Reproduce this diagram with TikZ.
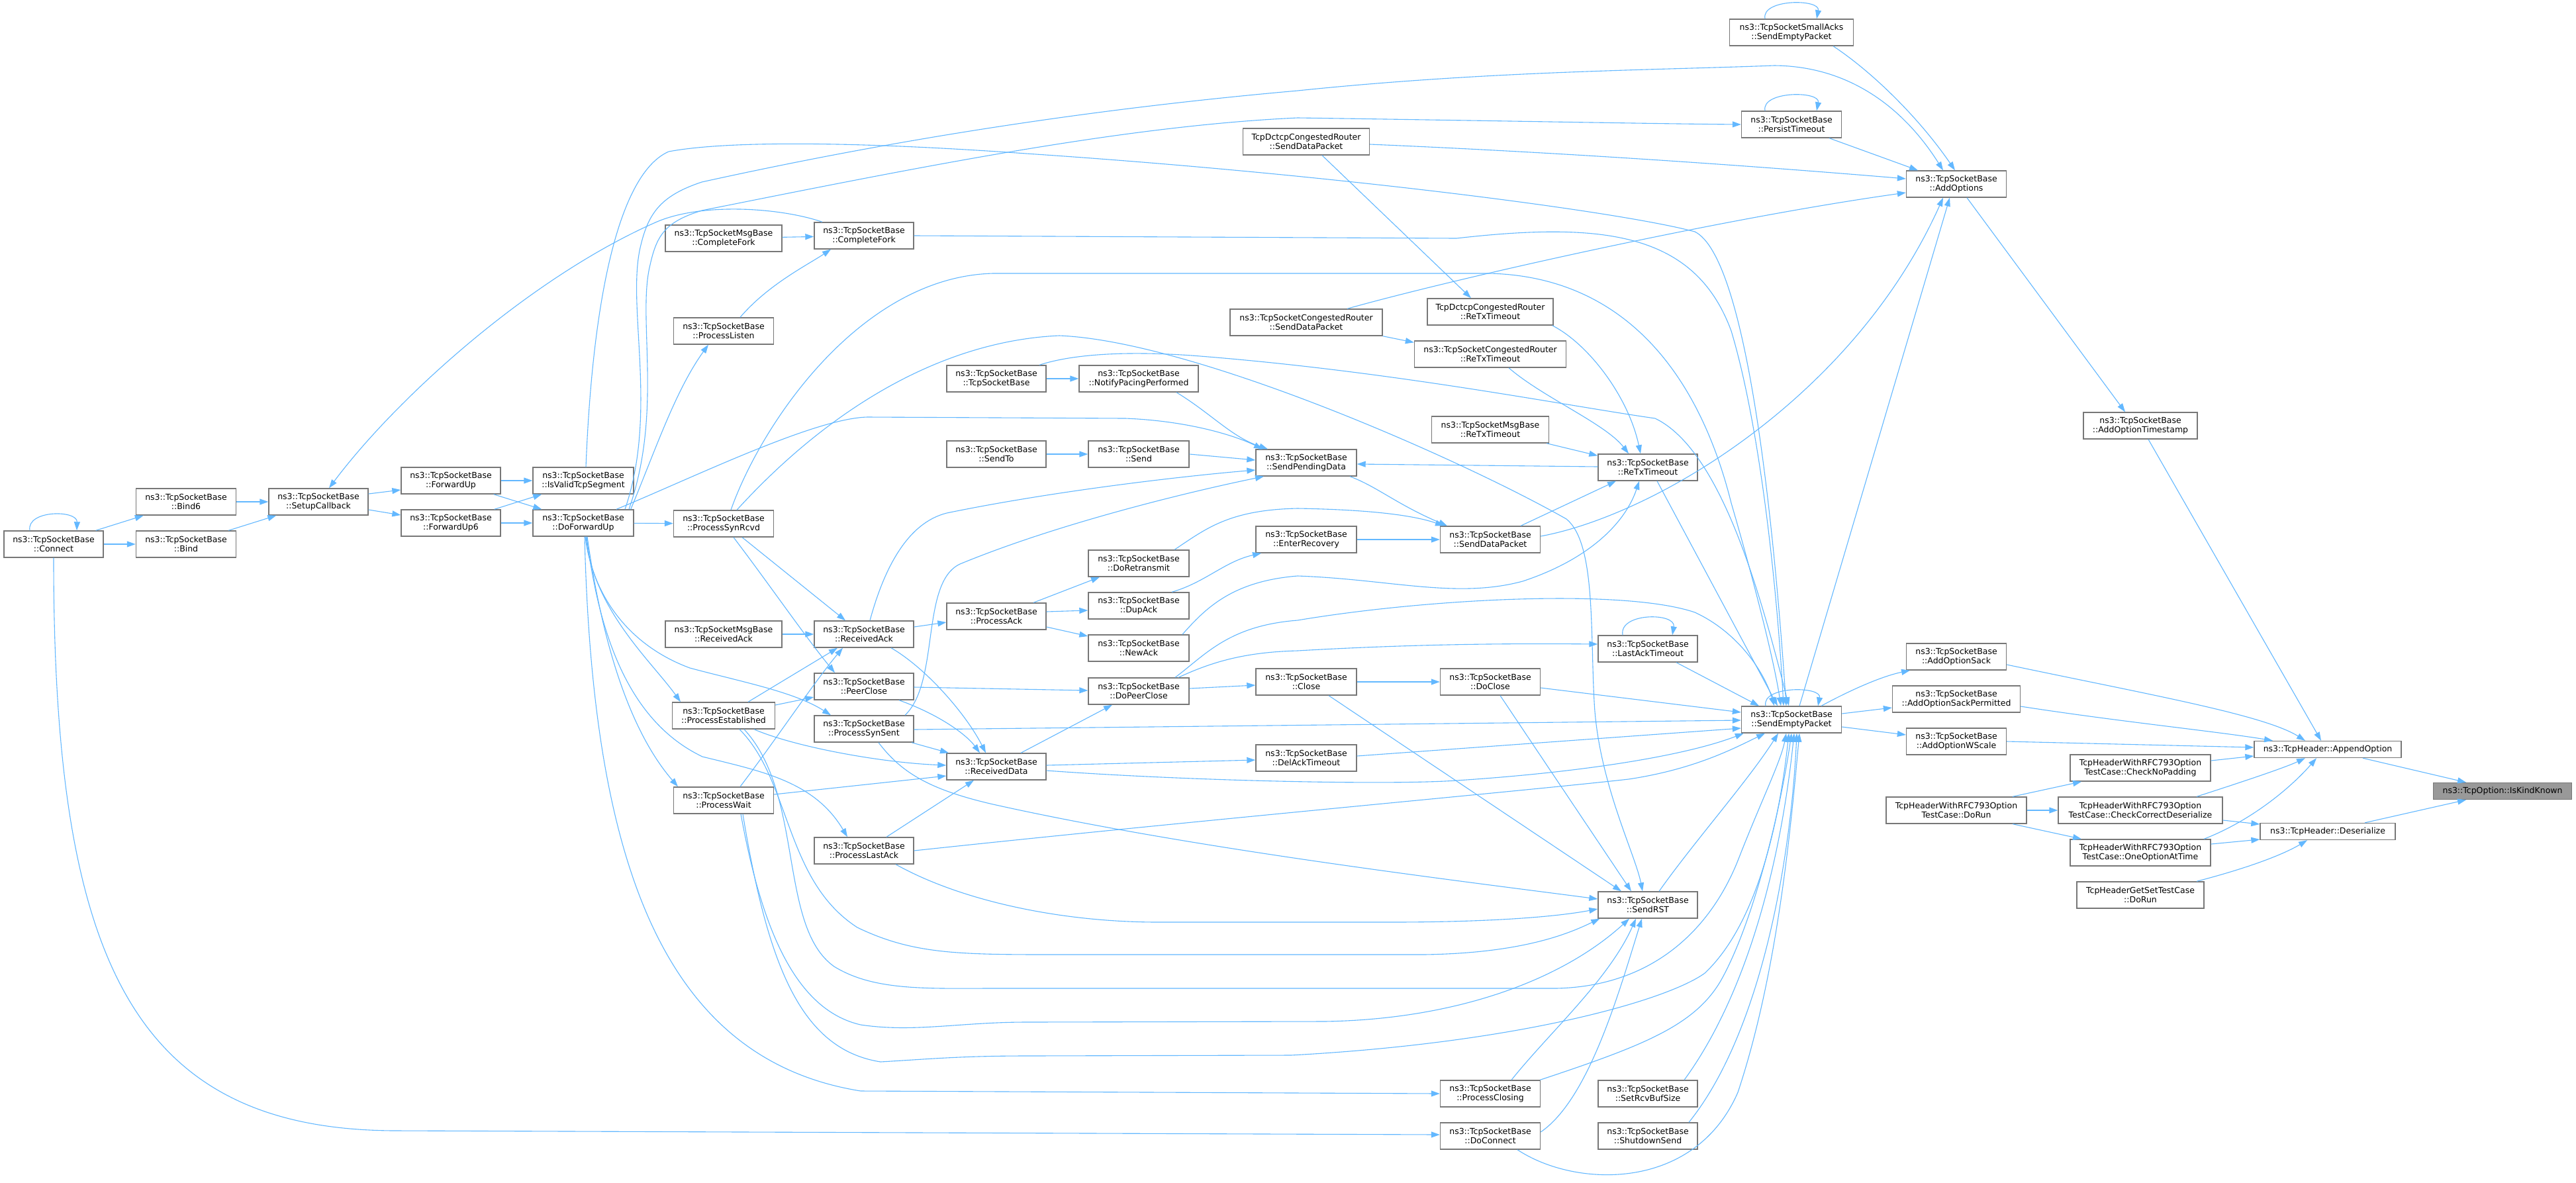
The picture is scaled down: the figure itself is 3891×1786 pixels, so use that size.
\documentclass[tikz,border=0pt]{standalone}
\usepackage{fontspec}
\setmainfont{DejaVu Sans}
\usetikzlibrary{arrows.meta}
\definecolor{edgeblue}{HTML}{63B8FF}
\definecolor{boxline}{HTML}{777777}
\definecolor{hlfill}{HTML}{999999}
\begin{document}
\begin{tikzpicture}[x=1pt,y=-1pt,
  box/.style={draw=boxline, line width=1.4pt, fill=white, minimum height=40pt, inner sep=2pt, align=center, font=\fontsize{12.5}{14.5}\selectfont},
  sbox/.style={box, minimum height=25pt},
  edge/.style={draw=edgeblue, line width=1.1pt, -{Triangle[length=13pt,width=9pt]}}]
\fill[white] (0,0) rectangle (3891,1786);
\useasboundingbox (0,0) rectangle (3891,1786);

% ---------------- nodes ----------------
\node[box,minimum width=150pt] (connect) at (81,822) {ns3::TcpSocketBase\\::Connect};
\node[box,minimum width=151pt] (bindsix) at (281,758) {ns3::TcpSocketBase\\::Bind6};
\node[box,minimum width=151pt] (bind) at (281,822) {ns3::TcpSocketBase\\::Bind};
\node[box,minimum width=150pt] (setupcb) at (481,758) {ns3::TcpSocketBase\\::SetupCallback};
\node[box,minimum width=150pt] (fwdup) at (681,726) {ns3::TcpSocketBase\\::ForwardUp};
\node[box,minimum width=150pt] (fwdupsix) at (681,790) {ns3::TcpSocketBase\\::ForwardUp6};
\node[box,minimum width=152pt] (isvalid) at (881,726) {ns3::TcpSocketBase\\::IsValidTcpSegment};
\node[box,minimum width=152pt] (doforward) at (881,790) {ns3::TcpSocketBase\\::DoForwardUp};
\node[box,minimum width=176pt] (msgfork) at (1093,360) {ns3::TcpSocketMsgBase\\::CompleteFork};
\node[box,minimum width=151pt] (listen) at (1093,500) {ns3::TcpSocketBase\\::ProcessListen};
\node[box,minimum width=151pt] (synrcvd) at (1093,791) {ns3::TcpSocketBase\\::ProcessSynRcvd};
\node[box,minimum width=176pt] (msgrack) at (1093,958) {ns3::TcpSocketMsgBase\\::ReceivedAck};
\node[box,minimum width=155pt] (established) at (1093,1081) {ns3::TcpSocketBase\\::ProcessEstablished};
\node[box,minimum width=151pt] (pwait) at (1093,1209) {ns3::TcpSocketBase\\::ProcessWait};
\node[box,minimum width=150pt] (cfork) at (1305,356) {ns3::TcpSocketBase\\::CompleteFork};
\node[box,minimum width=150pt] (rack) at (1305,958) {ns3::TcpSocketBase\\::ReceivedAck};
\node[box,minimum width=150pt] (peerclose) at (1305,1037) {ns3::TcpSocketBase\\::PeerClose};
\node[box,minimum width=150pt] (synsent) at (1305,1101) {ns3::TcpSocketBase\\::ProcessSynSent};
\node[box,minimum width=150pt] (lastack) at (1305,1285) {ns3::TcpSocketBase\\::ProcessLastAck};
\node[box,minimum width=150pt] (tsb) at (1505,572) {ns3::TcpSocketBase\\::TcpSocketBase};
\node[box,minimum width=150pt] (sendto) at (1505,686) {ns3::TcpSocketBase\\::SendTo};
\node[box,minimum width=150pt] (pack) at (1505,931) {ns3::TcpSocketBase\\::ProcessAck};
\node[box,minimum width=150pt] (rdata) at (1505,1158) {ns3::TcpSocketBase\\::ReceivedData};
\node[box,minimum width=180pt] (pacing) at (1720,572) {ns3::TcpSocketBase\\::NotifyPacingPerformed};
\node[box,minimum width=152pt] (send) at (1720,686) {ns3::TcpSocketBase\\::Send};
\node[box,minimum width=152pt] (retrans) at (1720,851) {ns3::TcpSocketBase\\::DoRetransmit};
\node[box,minimum width=152pt] (dupack) at (1720,915) {ns3::TcpSocketBase\\::DupAck};
\node[box,minimum width=152pt] (newack) at (1720,979) {ns3::TcpSocketBase\\::NewAck};
\node[box,minimum width=152pt] (dopeer) at (1720,1044) {ns3::TcpSocketBase\\::DoPeerClose};
\node[box,minimum width=191pt] (dctcpsdp) at (1973,214) {TcpDctcpCongestedRouter\\::SendDataPacket};
\node[box,minimum width=230pt] (crsdp) at (1973,487) {ns3::TcpSocketCongestedRouter\\::SendDataPacket};
\node[box,minimum width=152pt] (spd) at (1973,699) {ns3::TcpSocketBase\\::SendPendingData};
\node[box,minimum width=152pt] (enterrec) at (1973,815) {ns3::TcpSocketBase\\::EnterRecovery};
\node[box,minimum width=152pt] (close) at (1973,1030) {ns3::TcpSocketBase\\::Close};
\node[box,minimum width=152pt] (delack) at (1973,1145) {ns3::TcpSocketBase\\::DelAckTimeout};
\node[box,minimum width=190pt] (dctcprto) at (2251,471) {TcpDctcpCongestedRouter\\::ReTxTimeout};
\node[box,minimum width=229pt] (crrto) at (2251,535) {ns3::TcpSocketCongestedRouter\\::ReTxTimeout};
\node[box,minimum width=177pt] (msgrto) at (2251,649) {ns3::TcpSocketMsgBase\\::ReTxTimeout};
\node[box,minimum width=151pt] (sdp) at (2251,815) {ns3::TcpSocketBase\\::SendDataPacket};
\node[box,minimum width=151pt] (doclose) at (2251,1030) {ns3::TcpSocketBase\\::DoClose};
\node[box,minimum width=151pt] (pclosing) at (2251,1652) {ns3::TcpSocketBase\\::ProcessClosing};
\node[box,minimum width=151pt] (doconnect) at (2251,1716) {ns3::TcpSocketBase\\::DoConnect};
\node[box,minimum width=187pt] (smallacks) at (2706,49) {ns3::TcpSocketSmallAcks\\::SendEmptyPacket};
\node[box,minimum width=151pt] (persist) at (2706,188) {ns3::TcpSocketBase\\::PersistTimeout};
\node[box,minimum width=150pt] (rto) at (2489,706) {ns3::TcpSocketBase\\::ReTxTimeout};
\node[box,minimum width=150pt] (lastacktimeout) at (2489,980) {ns3::TcpSocketBase\\::LastAckTimeout};
\node[box,minimum width=150pt] (sendrst) at (2489,1367) {ns3::TcpSocketBase\\::SendRST};
\node[box,minimum width=150pt] (setrcv) at (2489,1652) {ns3::TcpSocketBase\\::SetRcvBufSize};
\node[box,minimum width=150pt] (shutdown) at (2489,1716) {ns3::TcpSocketBase\\::ShutdownSend};
\node[box,minimum width=151pt] (sep) at (2706,1087) {ns3::TcpSocketBase\\::SendEmptyPacket};
\node[box,minimum width=151pt] (addopts) at (2955,278) {ns3::TcpSocketBase\\::AddOptions};
\node[box,minimum width=151pt] (sack) at (2955,992) {ns3::TcpSocketBase\\::AddOptionSack};
\node[box,minimum width=193pt] (sackperm) at (2955,1056) {ns3::TcpSocketBase\\::AddOptionSackPermitted};
\node[box,minimum width=151pt] (wscale) at (2955,1120) {ns3::TcpSocketBase\\::AddOptionWScale};
\node[box,minimum width=212pt] (rfcdorun) at (2955,1224) {TcpHeaderWithRFC793Option\\TestCase::DoRun};
\node[box,minimum width=172pt] (tstamp) at (3233,643) {ns3::TcpSocketBase\\::AddOptionTimestamp};
\node[box,minimum width=212pt] (nopad) at (3233,1160) {TcpHeaderWithRFC793Option\\TestCase::CheckNoPadding};
\node[box,minimum width=248pt] (checkcorr) at (3233,1224) {TcpHeaderWithRFC793Option\\TestCase::CheckCorrectDeserialize};
\node[box,minimum width=212pt] (oneopt) at (3233,1288) {TcpHeaderWithRFC793Option\\TestCase::OneOptionAtTime};
\node[box,minimum width=192pt] (getset) at (3233,1352) {TcpHeaderGetSetTestCase\\::DoRun};
\node[sbox,minimum width=222pt] (append) at (3516,1132) {ns3::TcpHeader::AppendOption};
\node[sbox,minimum width=204pt] (deser) at (3516,1256) {ns3::TcpHeader::Deserialize};
\node[sbox,minimum width=209pt,fill=hlfill] (iskind) at (3780,1195) {ns3::TcpOption::IsKindKnown};

% ---------------- edges: left cluster ----------------
\draw[edge] ([xshift=-36pt]connect.north) .. controls (40,770) and (117,770) .. ([xshift=35pt]connect.north);
\draw[edge] ([xshift=-12pt]connect.north east) -- ([xshift=12pt]bindsix.south west);
\draw[edge] (connect) -- (bind);
\draw[edge] (bindsix) -- (setupcb);
\draw[edge] ([xshift=-12pt]bind.north east) -- ([xshift=12pt]setupcb.south west);
\draw[edge] ([yshift=12pt]setupcb.east) -- ([yshift=-14pt]fwdup.west);
\draw[edge] ([yshift=-12pt]setupcb.east) -- ([yshift=12pt]fwdupsix.west);
\draw[edge] (fwdup) -- (isvalid);
\draw[edge] ([xshift=-11pt]fwdup.south east) -- ([xshift=14pt]doforward.north west);
\draw[edge] ([xshift=-10pt]fwdupsix.north east) -- ([xshift=14pt]isvalid.south west);
\draw[edge] (fwdupsix) -- (doforward);
\draw[edge] (connect.south) .. controls (81,1450) and (200,1708) .. (600,1708) -- ([yshift=2pt]doconnect.west);
\draw[edge] ([xshift=-63pt]cfork.north) .. controls (1180,314) and (1060,305) .. (990,336) .. controls (800,420) and (600,600) .. ([xshift=16pt]setupcb.north);
\draw[edge] ([xshift=25pt]listen.north) .. controls (1160,430) and (1220,400) .. ([xshift=-50pt]cfork.south);
\draw[edge] (msgfork) -- (cfork);
\draw[edge] (cfork.east) -- (2200,360) .. controls (2420,335) and (2560,350) .. (2615,500) .. controls (2660,650) and (2685,900) .. ([xshift=-12pt]sep.north);
\draw[edge] ([xshift=4pt]isvalid.north) .. controls (895,450) and (935,262) .. (1010,229) .. controls (1100,212) and (1300,214) .. (1550,232) .. controls (2000,262) and (2440,318) .. (2560,350) .. controls (2640,390) and (2680,800) .. ([xshift=-8pt]sep.north);

% DoForwardUp
\draw[edge] ([xshift=63pt]doforward.north) .. controls (995,620) and (945,460) .. (968,370) .. controls (980,320) and (1000,295) .. (1060,275) .. controls (1400,200) and (1700,160) .. (1960,137) .. controls (2250,107) and (2500,106) .. (2680,99) .. controls (2800,100) and (2880,170) .. ([xshift=-20pt]addopts.north);
\draw[edge] ([xshift=69pt]doforward.north) .. controls (1002,620) and (962,480) .. (982,400) .. controls (992,355) and (1005,335) .. (1060,318) .. controls (1400,250) and (1700,190) .. (1960,178) .. controls (2300,183) and (2500,187) .. (persist.west);
\draw[edge] ([xshift=50pt]doforward.north) .. controls (1050,720) and (1230,632) .. (1310,630) -- (1700,632) .. controls (1800,636) and (1870,660) .. ([xshift=-66pt]spd.north);
\draw[edge] ([xshift=-5pt]doforward.north east) .. controls (990,680) and (1020,590) .. ([xshift=-23pt]listen.south);
\draw[edge] (doforward) -- (synrcvd);
\draw[edge] ([xshift=3pt]doforward.south) .. controls (895,900) and (950,975) .. (1042,1009) .. controls (1120,1030) and (1200,1045) .. ([xshift=-50pt]synsent.north);
\draw[edge] ([xshift=4pt]doforward.south) .. controls (895,920) and (985,1000) .. ([xshift=-65pt]established.north);
\draw[edge] ([xshift=5pt]doforward.south) .. controls (905,960) and (950,1090) .. (1061,1143) .. controls (1150,1165) and (1230,1180) .. ([xshift=-25pt]lastack.north);
\draw[edge] ([xshift=6pt]doforward.south) .. controls (915,1010) and (965,1120) .. ([xshift=-69pt]pwait.north);
\draw[edge] ([xshift=2pt]doforward.south) .. controls (895,1300) and (1000,1600) .. (1300,1648) -- (pclosing.west);

% ProcessSynRcvd
\draw[edge] ([xshift=28pt]synrcvd.south) -- ([xshift=-28pt]rack.north);
\draw[edge] ([xshift=15pt]synrcvd.south) .. controls (1160,880) and (1215,960) .. ([xshift=-44pt]peerclose.north);
\draw[edge] ([xshift=11pt]synrcvd.north) .. controls (1150,640) and (1300,418) .. (1500,413) -- (2250,413) .. controls (2450,418) and (2565,560) .. (2615,760) .. controls (2650,880) and (2680,1000) .. ([xshift=-16pt]sep.north);
\draw[edge] ([xshift=20pt]synrcvd.north) .. controls (1250,620) and (1420,515) .. (1600,507) .. controls (1800,515) and (2200,690) .. (2366,784) .. controls (2410,820) and (2402,950) .. (2408,1060) .. controls (2414,1180) and (2470,1290) .. ([xshift=-8pt]sendrst.north);

% ReceivedAck & co
\draw[edge] (msgrack) -- (rack);
\draw[edge] ([yshift=11pt]rack.east) -- ([yshift=-9pt]pack.west);
\draw[edge] ([xshift=41pt]rack.south) .. controls (1400,1010) and (1460,1080) .. ([xshift=-16pt]rdata.north);
\draw[edge] ([xshift=9pt]rack.north) .. controls (1335,860) and (1370,790) .. (1430,775) .. controls (1600,740) and (1800,718) .. ([yshift=-11pt]spd.west);
\draw[edge] ([xshift=56pt]pack.north) -- ([xshift=-59pt]retrans.south);
\draw[edge] ([yshift=7pt]pack.east) -- ([yshift=-7pt]dupack.west);
\draw[edge] ([yshift=-16pt]pack.east) -- ([yshift=18pt]newack.west);
\draw[edge] ([yshift=-1pt]peerclose.east) -- ([yshift=1pt]dopeer.west);
\draw[edge] ([xshift=53pt]peerclose.south) .. controls (1420,1080) and (1460,1110) .. ([xshift=-25pt]rdata.north);

% ProcessEstablished
\draw[edge] ([xshift=37pt]established.north) .. controls (1180,1030) and (1230,1000) .. ([xshift=-40pt]rack.south);
\draw[edge] ([yshift=16pt]established.east) -- ([yshift=-16pt]peerclose.west);
\draw[edge] ([xshift=46pt]established.south) .. controls (1200,1128) and (1330,1152) .. ([yshift=2pt]rdata.west);
\draw[edge] ([xshift=24pt]established.south) .. controls (1195,1180) and (1185,1330) .. (1295,1401) .. controls (1380,1442) and (1450,1442) .. (1600,1442) -- (2150,1442) .. controls (2300,1440) and (2370,1410) .. ([xshift=3pt]sendrst.south west);
\draw[edge] ([xshift=31pt]established.south) .. controls (1215,1200) and (1175,1400) .. (1260,1460) .. controls (1320,1497) and (1400,1493) .. (1500,1493) -- (2350,1493) .. controls (2500,1490) and (2585,1400) .. (2625,1300) .. controls (2660,1210) and (2690,1150) .. ([xshift=-8pt]sep.south);

% ProcessSynSent
\draw[edge] ([xshift=72pt]synsent.south) -- ([xshift=-72pt]rdata.north);
\draw[edge] ([xshift=62pt]synsent.north) .. controls (1420,1030) and (1390,880) .. (1450,852) .. controls (1600,790) and (1800,742) .. ([xshift=-64pt]spd.south);
\draw[edge] ([yshift=-1pt]synsent.east) -- ([yshift=-1pt]sep.west);
\draw[edge] ([xshift=22pt]synsent.south) .. controls (1360,1165) and (1400,1192) .. (1500,1215) .. controls (1800,1282) and (2200,1330) .. ([yshift=9pt]sendrst.west);

% ProcessWait
\draw[edge] ([xshift=25pt]pwait.north) .. controls (1170,1120) and (1230,1030) .. ([xshift=-32pt]rack.south);
\draw[edge] ([yshift=9pt]pwait.east) -- ([yshift=-14pt]rdata.west);
\draw[edge] ([xshift=26pt]pwait.south) .. controls (1150,1400) and (1200,1525) .. (1300,1548) .. controls (1380,1560) and (1450,1544) .. (1550,1544) -- (2000,1543) .. controls (2200,1540) and (2360,1480) .. ([xshift=-28pt]sendrst.south);
\draw[edge] ([xshift=29pt]pwait.south) .. controls (1160,1460) and (1210,1585) .. (1330,1604) .. controls (1400,1600) and (1450,1595) .. (1550,1595) -- (1950,1594) .. controls (2300,1575) and (2520,1510) .. (2575,1470) .. controls (2660,1390) and (2690,1220) .. ([xshift=-4pt]sep.south);

% ProcessLastAck
\draw[edge] ([xshift=34pt]lastack.north) -- ([xshift=-34pt]rdata.south);
\draw[edge] (lastack.east) .. controls (1800,1240) and (2300,1195) .. (2460,1177) .. controls (2560,1162) and (2620,1130) .. ([xshift=-40pt]sep.south);
\draw[edge] ([xshift=48pt]lastack.south) .. controls (1450,1360) and (1600,1393) .. (1750,1393) -- (2100,1393) .. controls (2250,1393) and (2350,1385) .. ([yshift=-6pt]sendrst.west);

% ReceivedData
\draw[edge] ([xshift=37pt]rdata.north) -- ([xshift=-40pt]dopeer.south);
\draw[edge] ([yshift=2pt]rdata.east) -- ([yshift=-3pt]delack.west);
\draw[edge] ([yshift=-6pt]rdata.east) .. controls (1800,1180) and (2100,1186) .. (2200,1179) .. controls (2400,1166) and (2550,1140) .. ([xshift=4pt]sep.south west);

% bottom
\draw[edge] ([xshift=-1pt]pclosing.north east) .. controls (2480,1580) and (2560,1550) .. (2600,1480) .. controls (2650,1390) and (2690,1220) .. ([xshift=0pt]sep.south);
\draw[edge] ([xshift=32pt]pclosing.north) .. controls (2340,1560) and (2430,1480) .. ([xshift=-18pt]sendrst.south);
\draw[edge] ([xshift=55pt]setrcv.north) .. controls (2640,1500) and (2690,1300) .. ([xshift=4pt]sep.south);
\draw[edge] ([xshift=62pt]shutdown.north) .. controls (2660,1560) and (2705,1300) .. ([xshift=8pt]sep.south);
\draw[edge] ([xshift=41pt]doconnect.south) .. controls (2380,1795) and (2560,1800) .. (2625,1650) .. controls (2685,1470) and (2705,1250) .. ([xshift=12pt]sep.south);
\draw[edge] ([yshift=6pt]doconnect.east) .. controls (2400,1660) and (2445,1500) .. ([xshift=-9pt]sendrst.south);
\draw[edge] ([xshift=17pt]sendrst.north) .. controls (2560,1270) and (2640,1180) .. ([xshift=-20pt]sep.south);

% Close / DoClose / DoPeerClose
\draw[edge] (close) -- (doclose);
\draw[edge] ([xshift=34pt]close.south) -- ([xshift=-40pt]sendrst.north);
\draw[edge] ([yshift=-9pt]doclose.east) -- ([yshift=11pt]sep.west);
\draw[edge] ([xshift=15pt]doclose.south) -- ([xshift=-25pt]sendrst.north);
\draw[edge] ([yshift=4pt]dopeer.east) -- ([yshift=-5pt]close.west);
\draw[edge] ([xshift=55pt]dopeer.north) .. controls (1820,990) and (1855,945) .. (1960,937) .. controls (2150,905) and (2450,888) .. (2560,925) .. controls (2625,955) and (2665,1015) .. ([xshift=-26pt]sep.north);
\draw[edge] ([xshift=60pt]dopeer.north) .. controls (1830,1000) and (1880,985) .. (1960,983) .. controls (2150,972) and (2300,972) .. ([yshift=7pt]lastacktimeout.west);
\draw[edge] ([xshift=-38pt]lastacktimeout.north) .. controls (2445,925) and (2532,925) .. ([xshift=37pt]lastacktimeout.north);
\draw[edge] ([xshift=43pt]lastacktimeout.south) -- ([xshift=-49pt]sep.north);
\draw[edge] ([yshift=3pt]delack.east) -- ([yshift=-13pt]sep.west);

% Ack processing / sending
\draw[edge] ([xshift=50pt]dupack.north) .. controls (1820,880) and (1850,848) .. ([xshift=-68pt]enterrec.south);
\draw[edge] ([xshift=54pt]retrans.north) .. controls (1820,800) and (1855,770) .. (1960,768) .. controls (2080,770) and (2140,780) .. ([xshift=-70pt]sdp.north);
\draw[edge] ([xshift=66pt]newack.north) .. controls (1820,920) and (1860,878) .. (1960,870) .. controls (2100,875) and (2200,905) .. (2300,878) .. controls (2400,845) and (2455,790) .. ([xshift=-13pt]rto.south);
\draw[edge] (enterrec) -- (sdp);
\draw[edge] ([xshift=66pt]spd.south) .. controls (2080,735) and (2110,762) .. ([xshift=-65pt]sdp.north);
\draw[edge] ([xshift=46pt]sdp.north) -- ([xshift=-48pt]rto.south);
\draw[edge] ([yshift=5pt]sdp.east) .. controls (2500,778) and (2800,600) .. ([xshift=-20pt]addopts.south);
\draw[edge] ([yshift=1pt]rto.west) -- ([yshift=-2pt]spd.east);
\draw[edge] ([xshift=14pt]rto.south) -- ([xshift=-21pt]sep.north);
\draw[edge] ([xshift=-4pt]msgrto.south east) -- ([yshift=-3pt]rto.north west);
\draw[edge] ([xshift=28pt]crrto.south) .. controls (2330,600) and (2425,640) .. ([xshift=-29pt]rto.north);
\draw[edge] ([xshift=-2pt]dctcprto.south east) .. controls (2400,520) and (2460,600) .. ([xshift=-11pt]rto.north);
\draw[edge] ([xshift=24pt]dctcpsdp.south) -- ([xshift=-29pt]dctcprto.north);
\draw[edge] ([yshift=-4pt]dctcpsdp.east) .. controls (2400,232) and (2700,255) .. ([yshift=8pt]addopts.west);
\draw[edge] (crsdp.south east) -- ([yshift=-3pt]crrto.north west);
\draw[edge] ([xshift=62pt]crsdp.north) .. controls (2200,420) and (2600,330) .. ([yshift=-13pt]addopts.west);
\draw[edge] ([xshift=57pt]pacing.south) .. controls (1830,625) and (1860,660) .. ([xshift=-58pt]spd.north);
\draw[edge] (tsb) -- (pacing);
\draw[edge] (sendto) -- (send);
\draw[edge] (send.east) -- ([yshift=4pt]spd.west);
\draw[edge] ([xshift=65pt]tsb.north) .. controls (1620,535) and (1700,530) .. (1800,537) .. controls (2100,560) and (2360,612) .. (2500,632) .. controls (2600,680) and (2660,900) .. ([xshift=-4pt]sep.north);

% top right
\draw[edge] ([xshift=-40pt]smallacks.north) .. controls (2660,-2) and (2750,-2) .. ([xshift=38pt]smallacks.north);
\draw[edge] ([xshift=63pt]smallacks.south) .. controls (2830,110) and (2900,180) .. ([xshift=-2pt]addopts.north);
\draw[edge] ([xshift=-40pt]persist.north) .. controls (2660,137) and (2750,137) .. ([xshift=38pt]persist.north);
\draw[edge] ([xshift=57pt]persist.south) -- ([xshift=-58pt]addopts.north);
\draw[edge] ([xshift=12pt]sep.north) -- ([xshift=-10pt]addopts.south);
\draw[edge] ([xshift=-39pt]sep.north) .. controls (2660,1036) and (2752,1036) .. ([xshift=40pt]sep.north);
\draw[edge] ([xshift=45pt]sep.north) .. controls (2790,1045) and (2840,1022) .. ([xshift=-70pt]sack.south);
\draw[edge] ([yshift=9pt]sep.east) -- ([yshift=-13pt]sackperm.west);
\draw[edge] ([yshift=-11pt]sep.east) -- ([yshift=10pt]wscale.west);
\draw[edge] ([xshift=16pt]addopts.south) -- ([xshift=-23pt]tstamp.north);

% TcpHeader
\draw[edge] ([yshift=-12pt]sack.east) .. controls (3250,1050) and (3420,1080) .. ([xshift=-34pt]append.north);
\draw[edge] ([yshift=-11pt]sackperm.east) .. controls (3200,1090) and (3350,1105) .. ([xshift=-83pt]append.north);
\draw[edge] (wscale.east) -- ([yshift=3pt]append.west);
\draw[edge] ([yshift=11pt]nopad.east) -- ([yshift=-10pt]append.west);
\draw[edge] ([xshift=85pt]checkcorr.north) .. controls (3390,1180) and (3450,1160) .. ([xshift=-34pt]append.south);
\draw[edge] ([xshift=96pt]oneopt.north) .. controls (3400,1240) and (3460,1190) .. ([xshift=-17pt]append.south);
\draw[edge] ([xshift=12pt]tstamp.south) -- ([xshift=-10pt]append.north);
\draw[edge] ([xshift=53pt]append.south) -- ([xshift=-55pt]iskind.north);
\draw[edge] ([xshift=56pt]deser.north) -- ([xshift=-55pt]iskind.south);
\draw[edge] ([yshift=-15pt]checkcorr.east) -- ([yshift=11pt]deser.west);
\draw[edge] ([yshift=13pt]oneopt.east) -- ([yshift=-12pt]deser.west);
\draw[edge] ([xshift=85pt]getset.north) .. controls (3400,1310) and (3450,1290) .. ([xshift=-31pt]deser.south);
\draw[edge] ([xshift=85pt]rfcdorun.north) -- ([xshift=-89pt]nopad.south);
\draw[edge] (rfcdorun) -- (checkcorr);
\draw[edge] ([xshift=85pt]rfcdorun.south) -- ([xshift=-89pt]oneopt.north);
\end{tikzpicture}
\end{document}
